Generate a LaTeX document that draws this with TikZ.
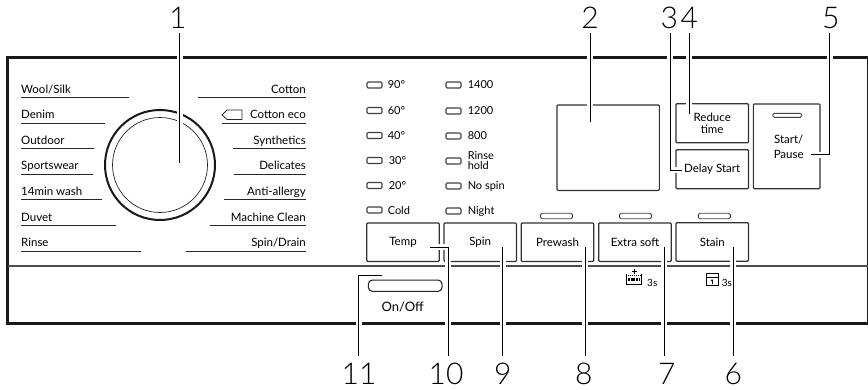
\documentclass[tikz,border=0pt]{standalone}
\usepackage{fontspec}
\setmainfont{Lato}
\newfontfamily\numfont{Lato Light}
\usetikzlibrary{positioning, arrows.meta, calc}

\tikzset{
    proglabel/.style={font=\fontsize{11.5}{12}\selectfont, inner xsep=0pt, inner ysep=4pt, text depth=0pt},
    progline/.style={draw=black!85, line width=0.8pt},
    led/.style={draw=black!75, line width=1.1pt, rounded corners=1.2pt, minimum width=15pt, minimum height=6pt, inner sep=0pt},
    widebar/.style={draw=black!75, line width=0.9pt, rounded corners=1.5pt, minimum width=32pt, minimum height=5.5pt, inner sep=0pt},
    ledlabel/.style={font=\fontsize{11}{11}\selectfont, anchor=west, inner sep=0pt, align=left},
    panelbutton/.style={draw=black!80, line width=1.2pt, rounded corners=1pt, minimum width=72.5pt, minimum height=38.5pt, inner sep=0pt, align=center, font=\fontsize{11.5}{15}\selectfont},
    topnum/.style={font=\numfont\fontsize{30}{30}\selectfont, anchor=south, inner xsep=0pt, inner ysep=4pt, text depth=0pt},
    botnum/.style={font=\numfont\fontsize{30}{30}\selectfont, anchor=north, inner xsep=0pt, inner ysep=7pt, text depth=0pt, text height=21pt},
    leader/.style={draw=black, line width=0.8pt, preaction={draw=white, line width=6pt}},
}

\begin{document}
\begin{tikzpicture}[x=1pt, y=-1pt]
    \useasboundingbox (0,0) rectangle (868,389);

    % panel
    \draw[draw=black!90, line width=3pt] (868,57.5) -- (7.5,57.5) -- (7.5,323) -- (868,323);
    \draw[draw=black!90, line width=0.8pt] (867.5,57.5) -- (867.5,323);
    \draw[draw=black!70, line width=1.2pt] (7.5,266) -- (868,266);

    % dial
    \node (dial) [circle, draw=black!90, line width=2pt, minimum size=110pt, inner sep=0pt] at (160,165) {};
    \node (knob) [circle, draw=black!85, line width=0.7pt, minimum size=95pt, inner sep=0pt] at (dial.center) {};

    % programmes on the left
    \node (wool) [proglabel, anchor=south west] at (21,97.5) {Wool/Silk};
    \node (denim) [proglabel, anchor=south west] at (21,123) {Denim};
    \node (outdoor) [proglabel, anchor=south west] at (21,148.5) {Outdoor};
    \node (sports) [proglabel, anchor=south west] at (21,174) {Sportswear};
    \node (quick) [proglabel, anchor=south west] at (21,199.5) {14min wash};
    \node (duvet) [proglabel, anchor=south west] at (21,225.5) {Duvet};
    \node (rinse) [proglabel, anchor=south west] at (21,251) {Rinse};
    \draw[progline] (wool.south west) -- ++(108,0);
    \draw[progline] (denim.south west) -- ++(84,0);
    \draw[progline] (outdoor.south west) -- ++(73,0);
    \draw[progline] (sports.south west) -- ++(72,0);
    \draw[progline] (quick.south west) -- ++(81,0);
    \draw[progline] (duvet.south west) -- ++(95,0);
    \draw[progline] (rinse.south west) -- ++(120,0);

    % programmes on the right
    \node (cotton) [proglabel, anchor=south east] at (306,97.5) {Cotton};
    \node (eco) [proglabel, anchor=south east] at (306,123) {Cotton eco};
    \node (synth) [proglabel, anchor=south east] at (306,148.5) {Synthetics};
    \node (delic) [proglabel, anchor=south east] at (306,174) {Delicates};
    \node (allergy) [proglabel, anchor=south east] at (306,199.5) {Anti-allergy};
    \node (clean) [proglabel, anchor=south east] at (306,225.5) {Machine Clean};
    \node (drain) [proglabel, anchor=south east] at (306,251) {Spin/Drain};
    \draw[progline] (cotton.south east) -- ++(-108,0);
    \draw[progline] (eco.south east) -- ++(-84,0);
    \draw[progline] (synth.south east) -- ++(-73,0);
    \draw[progline] (delic.south east) -- ++(-72,0);
    \draw[progline] (allergy.south east) -- ++(-82,0);
    \draw[progline] (clean.south east) -- ++(-96,0);
    \draw[progline] (drain.south east) -- ++(-120,0);
    \draw[draw=black!85, line width=0.8pt] (222,115) -- (227,110) -- (242,110) -- (242,119.5) -- (227,119.5) -- cycle;

    % temperature column
    \node (t90) [led] at (374.5,85) {};
    \node (t60) [led] at (374.5,110.5) {};
    \node (t40) [led] at (374.5,135.5) {};
    \node (t30) [led] at (374.5,160.5) {};
    \node (t20) [led] at (374.5,185.5) {};
    \node (tcold) [led] at (374.5,210) {};
    \node (l90) [ledlabel, right=5pt of t90] {90°};
    \node (l60) [ledlabel, right=5pt of t60] {60°};
    \node (l40) [ledlabel, right=5pt of t40] {40°};
    \node (l30) [ledlabel, right=6pt of t30] {30°};
    \node (l20) [ledlabel, right=6pt of t20] {20°};
    \node (lcold) [ledlabel, right=5pt of tcold] {Cold};

    % spin column
    \node (s1400) [led] at (453.5,85) {};
    \node (s1200) [led] at (453.5,111) {};
    \node (s800) [led] at (453.5,136) {};
    \node (shold) [led] at (453.5,161) {};
    \node (snospin) [led] at (453.5,186) {};
    \node (snight) [led] at (453.5,211) {};
    \node (l1400) [ledlabel, right=6pt of s1400] {1400};
    \node (l1200) [ledlabel, right=6pt of s1200] {1200};
    \node (l800) [ledlabel, right=6pt of s800] {800};
    \node (lhold) [ledlabel, right=6pt of shold, font=\fontsize{11}{10}\selectfont] {Rinse\\hold};
    \node (lnospin) [ledlabel, right=6pt of snospin] {No spin};
    \node (lnight) [ledlabel, right=6pt of snight] {Night};

    % buttons
    \node (temp) [panelbutton] at (403,242.3) {Temp};
    \node (spin) [panelbutton] at (480.2,242.3) {Spin};
    \node (prewash) [panelbutton] at (557.5,242.3) {Prewash};
    \node (soft) [panelbutton] at (635,242.3) {Extra soft};
    \node (stain) [panelbutton] at (712.3,242) {Stain};
    \node (ledpre) [widebar] at (556.5,216) {};
    \node (ledsoft) [widebar] at (635.5,216) {};
    \node (ledstain) [widebar] at (714.3,216) {};

    \node (display) [draw=black!80, line width=1.2pt, rounded corners=1pt, minimum width=102.3pt, minimum height=85.5pt, inner sep=0pt] at (608.2,147.7) {};
    \node (reduce) [panelbutton, minimum height=39pt, font=\fontsize{11.5}{11.5}\selectfont] at (712.2,123.2) {Reduce\\time};
    \node (delay) [panelbutton, minimum height=39pt] at (712.2,169.2) {Delay Start};
    \node (start) [panelbutton, minimum width=66.7pt, minimum height=84.7pt, font=\fontsize{11.5}{15}\selectfont] at (786.7,146.3) {};
    \node (startlabel) [align=center, inner sep=0pt, font=\fontsize{11.5}{15}\selectfont] at (788.7,146.5) {Start/\\Pause};
    \node (ledstart) [widebar, minimum width=29pt, minimum height=4pt] at (787.2,115.3) {};

    % lower strip
    \node (onoff) [draw=black!85, line width=1.1pt, rounded corners=4pt, minimum width=73.7pt, minimum height=11.3pt, inner sep=0pt] at (405.2,285.7) {};
    \node (onofflabel) [font=\fontsize{13}{13}\selectfont, inner sep=0pt] at (402.7,307) {On/Off};
    \draw[line width=0.9pt] (626.5,274) -- (626.5,284.5) -- (641.5,284.5) -- (641.5,274);
    \draw[line width=0.7pt] (634,269) -- (634,274) (631.5,271.5) -- (636.5,271.5);
    \draw[line width=0.6pt, dash pattern=on 1pt off 1pt] (627.5,275.5) -- (640.5,275.5);
    \draw[line width=2.4pt, dash pattern=on 2pt off 0.7pt] (628,279.5) -- (640,279.5);
    \draw[line width=0.9pt] (706,273) rectangle (718,285);
    \draw[line width=0.9pt] (706,277) -- (718,277);
    \draw[line width=0.6pt, -{Latex[length=2pt,width=2.4pt]}] (712,283.5) -- (712,279);

    % callout numbers
    \node (num1) [topnum] at (177.7,33) {1};
    \node (num2) [topnum] at (590,33) {2};
    \node (num3) [topnum] at (669.3,33) {3};
    \node (num4) [topnum] at (689.3,33) {4};
    \node (num5) [topnum] at (830.7,33) {5};
    \node (num6) [botnum] at (733.3,356) {6};
    \node (num7) [botnum] at (666.7,356) {7};
    \node (num8) [botnum] at (583.7,356) {8};
    \node (num9) [botnum] at (502.7,356) {9};
    \node (num10) [botnum] at (446,356) {10};
    \node (num11) [botnum] at (359,356) {11};

    \coordinate (end1) at (179.5,163);
    \coordinate (end2) at (590,121.7);
    \coordinate (end3) at (670.3,170);
    \coordinate (tip3) at (682,170);
    \coordinate (end4) at (689.3,114);
    \coordinate (end5) at (829.7,154.7);
    \coordinate (tip5) at (810.7,154.7);
    \coordinate (end6) at (733.3,247.3);
    \coordinate (end7) at (664,247.3);
    \coordinate (end8) at (585.3,247.3);
    \coordinate (end9) at (502.7,247.3);
    \coordinate (end10) at (448,247.3);
    \coordinate (tip10) at (430,247.3);
    \coordinate (end11) at (358.7,275.3);
    \coordinate (tip11) at (381.7,275.3);

    \draw[leader] (num1.south -| end1) -- (end1);
    \draw[leader] (num2.south -| end2) -- (end2);
    \draw[leader] (num3.south -| end3) -- (end3) -- (tip3);
    \draw[leader] (num4.south -| end4) -- (end4);
    \draw[leader] (num5.south -| end5) -- (end5) -- (tip5);
    \draw[leader] (num6.north -| end6) -- (end6);
    \draw[leader] (num7.north -| end7) -- (end7);
    \draw[leader] (num8.north -| end8) -- (end8);
    \draw[leader] (num9.north -| end9) -- (end9);
    \draw[leader] (num10.north -| end10) -- (end10) -- (tip10);
    \draw[leader] (num11.north -| end11) -- (end11) -- (tip11);

    \node (softlabel) [font=\fontsize{10}{10}\selectfont, anchor=west, inner sep=0pt] at (647,282.5) {3s};
    \node (stainlabel) [font=\fontsize{10}{10}\selectfont, anchor=west, inner sep=0pt] at (721.7,282.5) {3s};
\end{tikzpicture}
\end{document}
